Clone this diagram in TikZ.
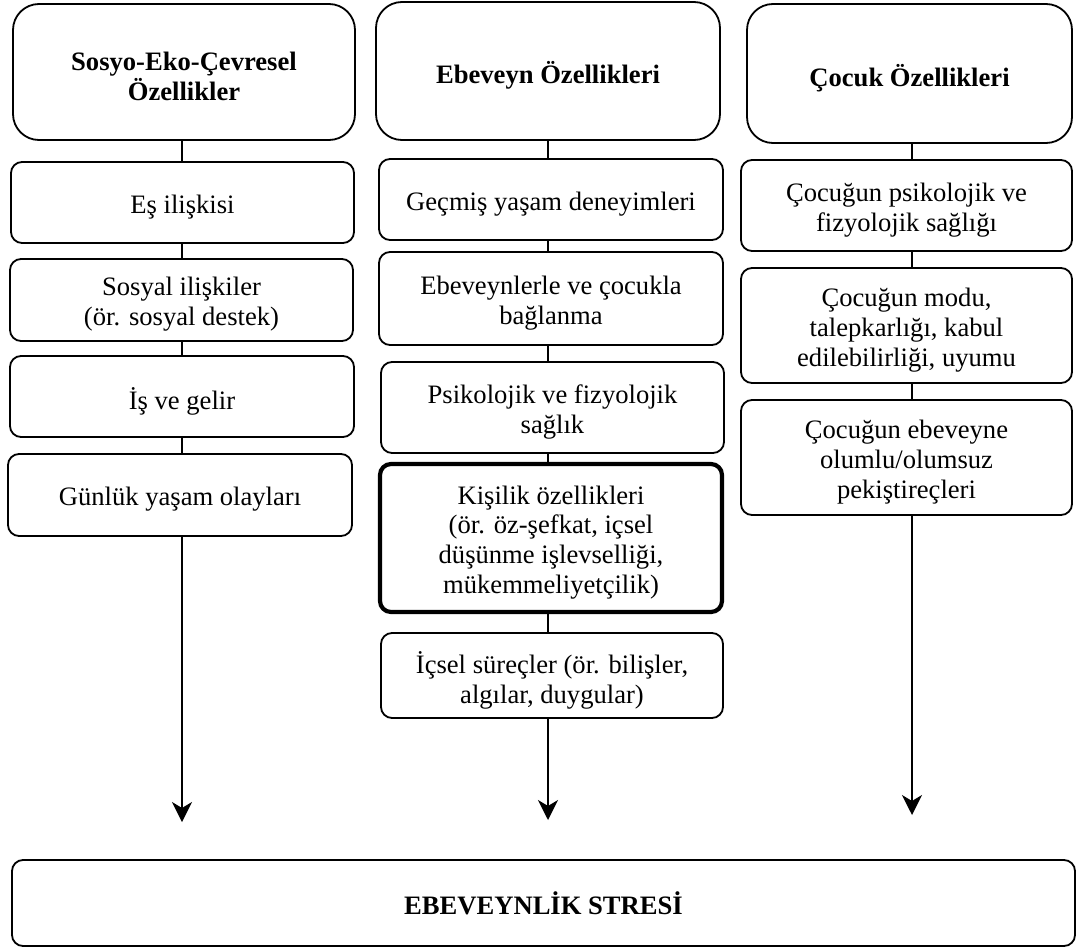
\documentclass[tikz,border=0pt]{standalone}
\usepackage{fontspec}
\setmainfont{Liberation Serif}
\usetikzlibrary{arrows.meta}

\tikzset{
  frame/.style={draw=black, line width=1.8bp, inner sep=0pt},
  head/.style={frame, rounded corners=26bp},
  item/.style={frame, rounded corners=11bp},
  keyitem/.style={item, line width=4.2bp},
  plain/.style={align=center, inner sep=0pt, font=\fontsize{26.7}{30}\selectfont},
  strong/.style={plain, font=\fontsize{26.7}{30}\selectfont\bfseries},
  wire/.style={line width=1.8bp},
  flow/.style={line width=1.8bp, -{Stealth[length=20bp,width=20bp,inset=6bp]}},
}

% frame style, text style, name, x1, y1, x2, y2, text
\newcommand{\boxat}[8]{%
  \pgfmathsetmacro{\bw}{#6-#4}%
  \pgfmathsetmacro{\bh}{#7-#5}%
  \pgfmathsetmacro{\bx}{(#4+#6)/2}%
  \pgfmathsetmacro{\by}{(#5+#7)/2}%
  \node[#1, minimum width=\bw bp, minimum height=\bh bp] (#3) at (\bx,\by) {};
  \node[#2] (#3-t) at ([yshift=-4.5bp]#3.center) {#8};}

\begin{document}
\begin{tikzpicture}[x=1bp, y=-1bp]
\useasboundingbox (0,0) rectangle (1077,948);

% column axes for the vertical connectors
\coordinate (cl) at (182,0);
\coordinate (cm) at (548,0);
\coordinate (cr) at (912,0);

% socio-eco-environmental column
\boxat{head}{strong}{H1}{13}{4}{355}{140}{Sosyo-Eko-Çevresel\\Özellikler}
\boxat{item}{plain}{L1}{11}{162}{354}{243}{Eş ilişkisi}
\boxat{item}{plain}{L2}{10}{259}{353}{341}{Sosyal ilişkiler\\(ör. sosyal destek)}
\boxat{item}{plain}{L3}{10}{356}{354}{437}{İş ve gelir}
\boxat{item}{plain}{L4}{8}{454}{352}{536}{Günlük yaşam olayları}

% parent column
\boxat{head}{strong}{H2}{376}{2}{720}{140}{Ebeveyn Özellikleri}
\boxat{item}{plain}{M1}{379}{159}{723}{240}{Geçmiş yaşam deneyimleri}
\boxat{item}{plain}{M2}{379}{252}{723}{345}{Ebeveynlerle ve çocukla\\bağlanma}
\boxat{item}{plain}{M3}{381}{362}{724}{453}{Psikolojik ve fizyolojik\\sağlık}
\boxat{keyitem}{plain}{M4}{380}{464}{722}{612}{Kişilik özellikleri\\(ör. öz-şefkat, içsel\\düşünme işlevselliği,\\mükemmeliyetçilik)}
\boxat{item}{plain}{M5}{381}{633}{723}{718}{İçsel süreçler (ör. bilişler,\\algılar, duygular)}

% child column
\boxat{head}{strong}{H3}{747}{4}{1072}{143}{Çocuk Özellikleri}
\boxat{item}{plain}{R1}{741}{160}{1072}{251}{Çocuğun psikolojik ve\\fizyolojik sağlığı}
\boxat{item}{plain}{R2}{741}{268}{1072}{383}{Çocuğun modu,\\talepkarlığı, kabul\\edilebilirliği, uyumu}
\boxat{item}{plain}{R3}{741}{400}{1072}{515}{Çocuğun ebeveyne\\olumlu/olumsuz\\pekiştireçleri}

% outcome
\node[item, minimum width=1063bp, minimum height=86bp] (S) at (543.5,903) {};
\node[strong] (S-t) at (S.center) {EBEVEYNLİK STRESİ};

% links inside each column
\foreach \a/\b in {H1/L1, L1/L2, L2/L3, L3/L4}
  \draw[wire] (\a.south -| cl) -- (\b.north -| cl);
\foreach \a/\b in {H2/M1, M1/M2, M2/M3, M3/M4, M4/M5}
  \draw[wire] (\a.south -| cm) -- (\b.north -| cm);
\foreach \a/\b in {H3/R1, R1/R2, R2/R3}
  \draw[wire] (\a.south -| cr) -- (\b.north -| cr);

% arrows towards the outcome
\coordinate (tl) at (182,822);
\coordinate (tm) at (548,820);
\coordinate (tr) at (912,815);
\draw[flow] (L4.south -| cl) -- (tl);
\draw[flow] (M5.south -| cm) -- (tm);
\draw[flow] (R3.south -| cr) -- (tr);
\end{tikzpicture}
\end{document}
